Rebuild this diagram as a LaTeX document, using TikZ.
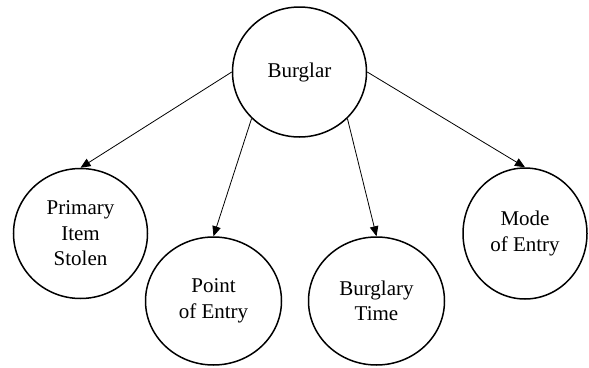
\documentclass[tikz,border=0pt]{standalone}
\usepackage{fontspec}
\setmainfont{Liberation Serif}
\usetikzlibrary{shapes.geometric,arrows.meta}
\begin{document}
\begin{tikzpicture}[x=1pt,y=-1pt,
  bubble/.style={draw=black, line width=1.5pt, ellipse, inner sep=0pt,
    minimum width=134pt, minimum height=130pt, align=center,
    font=\fontsize{21}{25.5}\selectfont},
  link/.style={draw=black, line width=0.8pt, -{Triangle[length=10pt,width=8.5pt]}}]
\useasboundingbox (0,0) rectangle (589,367);
\node[bubble] (burglar) at (299.5,72) {Burglar};
\node[bubble] (primary) at (80.5,233.5) {Primary\\Item\\Stolen};
\node[bubble, minimum width=136pt, minimum height=128pt] (point) at (213.5,301) {Point\\of Entry};
\node[bubble, minimum width=136pt, minimum height=128pt] (time) at (376.5,301) {Burglary\\Time};
\node[bubble, minimum width=124pt, minimum height=131pt] (mode) at (525,233.5) {Mode\\of Entry};
\draw[link] (burglar.west) -- (primary.north);
\draw[link] (burglar.south west) -- (point.north);
\draw[link] (burglar.south east) -- (time.north);
\draw[link] (burglar.east) -- (mode.north);
\end{tikzpicture}
\end{document}
